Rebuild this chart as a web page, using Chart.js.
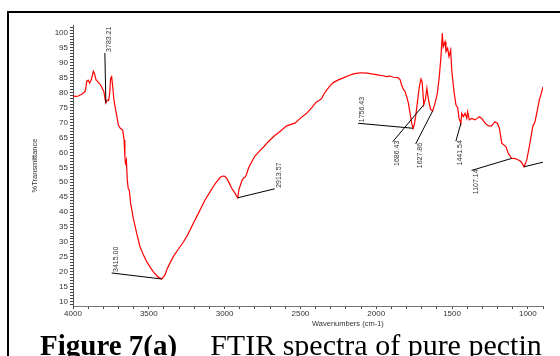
<!DOCTYPE html>
<html>
<head>
<meta charset="utf-8">
<script src="https://cdn.jsdelivr.net/npm/chart.js@4.4.0/dist/chart.umd.min.js"></script>
<style>
  html, body { margin: 0; padding: 0; background: #fff; overflow: hidden; }
  #wrap { position: relative; width: 560px; height: 356px; overflow: hidden; }
  #frame { position: absolute; left: 7px; top: 11px; width: 600px; height: 400px;
           border-left: 2px solid #000; border-top: 2px solid #000; }
  canvas { position: absolute; left: 0; top: 0; }
  #caption { position: absolute; left: 40px; top: 330px; white-space: nowrap; color: #000;
             font-family: "Liberation Serif", "Times New Roman", serif;
             font-size: 30px; line-height: 30px; }
  #caption b { font-size: 29px; }
  #caption span { margin-left: 33px; }
</style>
</head>
<body>
<div id="wrap">
  <div id="frame"></div>
  <canvas id="ftirChart" width="560" height="356"></canvas>
  <div id="caption"><b>Figure 7(a)</b><span>FTIR spectra of pure pectin</span></div>
</div>
<script>
// ---------------- SPECTRUM DATA ----------------

// wavenumber (cm-1), high to low
const wavenumbers = [
    4000, 3980, 3965, 3950, 3940, 3930, 3921, 3915, 3910, 3900,
    3890, 3878, 3866, 3858, 3848, 3840, 3832, 3818, 3804, 3796,
    3789, 3783.21, 3775, 3765, 3758, 3752, 3745, 3738, 3730, 3718,
    3712, 3701, 3688, 3672, 3663, 3658, 3654, 3648, 3642, 3636,
    3629, 3620, 3602, 3580, 3558, 3535, 3514, 3490, 3470, 3440,
    3415.00, 3395, 3382, 3360, 3338, 3316, 3294, 3272, 3250, 3228,
    3206, 3184, 3162, 3130, 3096, 3075, 3052, 3030, 3013, 2998,
    2986, 2970, 2953, 2935, 2913.57, 2905, 2895, 2886, 2877, 2862,
    2850, 2843, 2821, 2800, 2767, 2740, 2712, 2675, 2635, 2591,
    2560, 2536, 2500, 2459, 2425, 2393, 2375, 2360, 2345, 2327,
    2305, 2283, 2250, 2217, 2185, 2151, 2120, 2096, 2060, 2030,
    2000, 1975, 1955, 1931, 1910, 1887, 1870, 1854, 1842, 1832,
    1820, 1810, 1798, 1788, 1773, 1766, 1756.43, 1748, 1740, 1729,
    1716, 1705, 1697, 1686.43, 1675, 1666, 1655, 1642, 1627.86, 1612,
    1597, 1584, 1573, 1564, 1558, 1546, 1540, 1529, 1520, 1509,
    1502, 1487, 1474, 1463, 1454, 1441.54, 1436, 1426, 1414, 1403,
    1397, 1386, 1370, 1348, 1320, 1304, 1282, 1261, 1238, 1217,
    1201, 1188, 1172, 1144, 1129, 1107.14, 1090, 1073, 1052, 1040,
    1025, 1007, 986, 968, 953, 937, 924, 908, 900
];

// %T at each wavenumber
const transmittance = [
    78.9, 78.8, 78.9, 79.3, 79.6, 80.0, 80.4, 81.6, 83.8, 84.2,
    83.2, 84.6, 87.2, 86.4, 84.3, 83.9, 83.5, 82.6, 81.2, 80.3,
    78.0, 76.6, 77.6, 77.4, 79.8, 84.8, 85.4, 82.0, 77.6, 74.0,
    72.5, 69.2, 68.1, 67.5, 64.2, 58.6, 56.4, 57.5, 50.8, 48.0,
    47.4, 43.0, 37.9, 32.9, 28.4, 25.6, 23.4, 21.5, 20.0, 18.3,
    17.6, 18.8, 20.6, 23.0, 25.1, 26.8, 28.4, 30.0, 31.8, 34.0,
    36.3, 38.5, 40.7, 44.0, 46.8, 48.6, 50.2, 51.6, 52.1, 52.0,
    51.3, 49.8, 48.0, 46.6, 44.8, 47.6, 49.2, 50.5, 51.3, 51.9,
    53.5, 54.7, 56.9, 58.8, 60.6, 62.0, 63.6, 65.4, 67.0, 68.9,
    69.4, 69.8, 71.5, 73.1, 75.0, 77.0, 77.4, 78.1, 79.6, 80.9,
    82.3, 83.4, 84.3, 85.0, 85.7, 86.3, 86.6, 86.7, 86.6, 86.3,
    86.1, 85.8, 85.7, 85.4, 85.6, 85.2, 85.1, 85.0, 84.3, 82.5,
    81.0, 80.5, 78.5, 76.5, 72.0, 69.8, 68.1, 69.5, 72.0, 76.5,
    82.0, 84.6, 83.6, 76.0, 78.0, 81.5, 77.5, 74.5, 73.9, 76.5,
    79.8, 85.4, 92.1, 99.9, 95.4, 97.1, 93.8, 94.9, 92.1, 94.3,
    87.6, 80.4, 75.9, 75.1, 71.5, 69.8, 73.1, 72.0, 73.1, 71.4,
    73.6, 70.9, 71.4, 70.9, 72.0, 71.4, 69.8, 68.9, 68.9, 70.3,
    69.8, 68.1, 63.1, 61.9, 59.7, 58.0, 58.0, 57.7, 57.2, 56.5,
    55.2, 57.5, 63.1, 68.6, 70.3, 74.2, 77.6, 80.4, 82.0
];

// bands marked with a leader line (the last one has its text off the plot)
const peakBands = [3783.21, 3415.00, 2913.57, 1756.43, 1686.43, 1627.86, 1441.54, 1107.14, 1025];
const peakText = ["3783.21", "3415.00", "2913.57", "1756.43", "1686.43", "1627.86", "1441.54", "1107.14", ""];

// leader end, in px from the band point; text goes up or down from there
const leaderOffsets = [
    [-1, -50, "up"], [-50, -6, "up"], [37, -9, "up"], [-55, -5, "up"],
    [-31, 37, "down"], [-17, 33, "down"], [-5, 18, "down"], [-40, 12, "down"],
    [25, -6, "up"]
];

const xMin = 900, xMax = 4000;
const yMin = 8.55, yMax = 102.7;
const xTitle = "Wavenumbers (cm-1)";

const axisFont = '"Liberation Sans", Arial, sans-serif';

// ---------------- PEAK LEADERS ----------------

const peakLeaders = {
    id: "peakLeaders",
    afterDatasetsDraw(chart) {
        const { ctx, chartArea, scales: { x, y } } = chart;
        ctx.save();
        ctx.beginPath();
        ctx.rect(chartArea.left, chartArea.top, chartArea.right - chartArea.left, chartArea.bottom - chartArea.top);
        ctx.clip();
        ctx.strokeStyle = "#000";
        ctx.lineWidth = 1;
        ctx.fillStyle = "#333";
        ctx.font = "7px " + axisFont;
        ctx.textBaseline = "middle";

        peakBands.forEach((band, i) => {
            const t = transmittance[wavenumbers.indexOf(band)];
            const px = x.getPixelForValue(band);
            const py = y.getPixelForValue(t);
            const [dx, dy, side] = leaderOffsets[i];
            const ex = px + dx, ey = py + dy;

            ctx.beginPath();
            ctx.moveTo(px, py);
            ctx.lineTo(ex, ey);
            ctx.stroke();

            if (!peakText[i]) return;
            ctx.save();
            ctx.translate(ex + 4, ey - 1);
            ctx.rotate(-Math.PI / 2);
            ctx.textAlign = side === "up" ? "left" : "right";
            ctx.fillText(peakText[i], 0, 0);
            ctx.restore();
        });
        ctx.restore();
    },
    // x axis title sits a little right of the axis middle
    afterDraw(chart) {
        const { ctx, chartArea } = chart;
        ctx.save();
        ctx.fillStyle = "#333";
        ctx.font = "7.5px " + axisFont;
        ctx.textAlign = "center";
        ctx.textBaseline = "middle";
        ctx.fillText(xTitle, chartArea.left + (chartArea.right - chartArea.left) * 0.585, chartArea.bottom + 18);
        ctx.restore();
    }
};

// ---------------- LINE CHART ----------------

const ftirCtx =
document.getElementById("ftirChart");

new Chart(ftirCtx, {

    type: "line",

    data: {
        datasets: [{
            label: "Pure pectin",
            data: wavenumbers.map((w, i) => ({ x: w, y: transmittance[i] })),
            borderColor: "#ff0000",
            borderWidth: 1.2,
            pointRadius: 0,
            tension: 0,
            fill: false
        }]
    },

    options: {
        responsive: false,
        animation: false,
        devicePixelRatio: 1,
        layout: { padding: { top: 25, right: 17, left: 0, bottom: 0 } },
        plugins: {
            legend: { display: false },
            tooltip: { enabled: false }
        },
        scales: {
            x: {
                type: "linear",
                reverse: true,
                min: xMin,
                max: xMax,
                afterFit: (s) => { s.height = 50; },
                border: { display: true, color: "#777", width: 1 },
                grid: { drawOnChartArea: false, drawTicks: true, tickLength: 3, color: "#444" },
                ticks: {
                    stepSize: 100,
                    autoSkip: false,
                    maxRotation: 0,
                    includeBounds: false,
                    padding: 0,
                    color: "#333",
                    font: { family: axisFont, size: 8 },
                    callback: (v) => (Math.round(v) % 500 === 0 ? String(Math.round(v)) : "")
                }
            },
            y: {
                min: yMin,
                max: yMax,
                afterFit: (s) => { s.width = 73; },
                border: { display: true, color: "#555", width: 1 },
                grid: { drawOnChartArea: false, drawTicks: true, tickLength: 3, color: "#444" },
                ticks: {
                    stepSize: 1,
                    autoSkip: false,
                    includeBounds: false,
                    padding: 2,
                    color: "#333",
                    font: { family: axisFont, size: 8 },
                    callback: (v) => (Number.isInteger(v) && v % 5 === 0 && v >= 10 && v <= 100 ? String(v) : "")
                },
                title: {
                    display: true,
                    text: "%Transmittance",
                    color: "#333",
                    font: { family: axisFont, size: 7.5 },
                    padding: { top: 30.5, bottom: 0 }
                }
            }
        }
    },

    plugins: [peakLeaders]
});
</script>
</body>
</html>
